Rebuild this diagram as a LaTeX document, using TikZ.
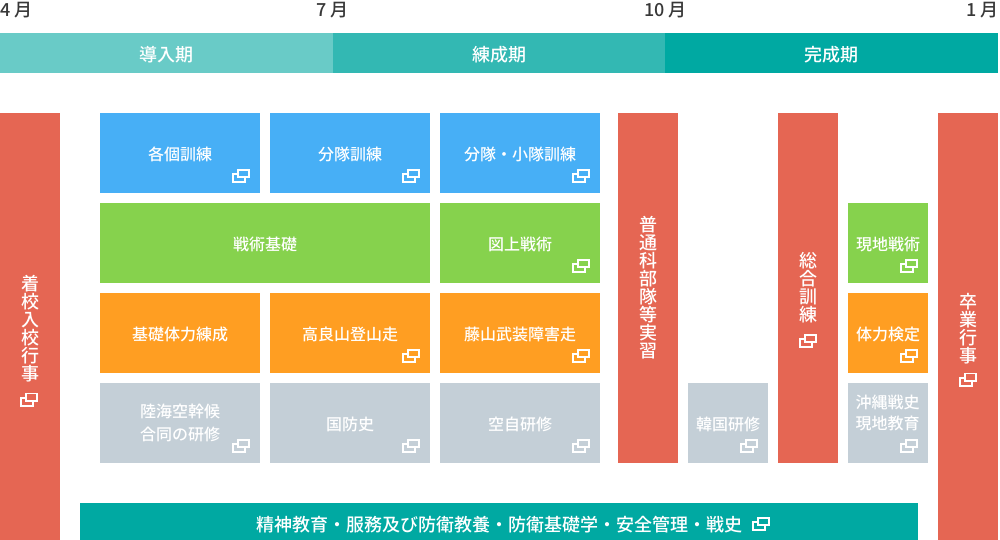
\documentclass[tikz,border=0pt]{standalone}
\usepackage{fontspec}
\setmainfont{Noto Sans CJK JP Medium}[BoldFont={Noto Sans CJK JP Bold}]
\definecolor{kiBlue}{HTML}{47AFF6}
\definecolor{kiGreen}{HTML}{86D24D}
\definecolor{kiOrange}{HTML}{FF9E22}
\definecolor{kiGray}{HTML}{C4CFD7}
\definecolor{kiRed}{HTML}{E56653}
\definecolor{kiTealA}{HTML}{69CBC7}
\definecolor{kiTealB}{HTML}{33B8B3}
\definecolor{kiTealC}{HTML}{00A9A2}
\tikzset{
	tile/.style={anchor=north west,inner sep=0pt,outer sep=0pt,text=white,align=center,
		font=\fontsize{16}{23}\selectfont,minimum width=#1,minimum height=80,
		execute at begin node={\rule{0pt}{16.2pt}}},
	tile/.default=160,
	tall/.style 2 args={anchor=north west,inner sep=0pt,outer sep=0pt,text=white,align=center,
		font=\fontsize{18}{18}\selectfont,minimum width=#1,minimum height=#2},
	period/.style={anchor=north west,inner sep=0pt,outer sep=0pt,text=white,
		font=\fontsize{18}{18}\selectfont,minimum width=#1,minimum height=40,
		execute at begin node={\rule{0pt}{18.2pt}}},
	month/.style={inner sep=0pt,text=black!78,font=\fontsize{18}{18}\selectfont,
		execute at begin node={\rule{0pt}{18.2pt}}},
	winicon/.pic={
		\draw[white,line width=1.7pt] (-12.15,-13.15) rectangle (-.85,-5.85);
		\draw[white,line width=1.7pt] (-13,-8.85) -- (-17.15,-8.85) -- (-17.15,-.85) -- (-5,-.85) -- (-5,-5);
	}
}
\begin{document}
\begin{tikzpicture}[x=1pt,y=-1pt]
	\useasboundingbox (0,0) rectangle (1000,540);
	% months
	\node[month,anchor=west] (m4) at (0,8) {4 月};
	\node[month] (m7) at (332.5,8) {7 月};
	\node[month] (m10) at (665.5,8) {10 月};
	\node[month,anchor=east] (m1) at (998.5,8) {1 月};
	% periods
	\node[period=333,fill=kiTealA] (intro) at (0,33) {導入期};
	\node[period=332,fill=kiTealB] (train) at (333,33) {練成期};
	\node[period=333,fill=kiTealC] (final) at (665,33) {完成期};
	% tall bars
	\node[tall={60}{431},fill=kiRed] (entry) at (0,113) {着\\校\\入\\校\\行\\事};
	\node[tall={60}{350},fill=kiRed] (unit) at (618,113) {普\\通\\科\\部\\隊\\等\\実\\習};
	\node[tall={60}{350},fill=kiRed] (total) at (778,113) {総\\合\\訓\\練};
	\node[tall={60}{431},fill=kiRed] (grad) at (938,113) {卒\\業\\行\\事};
	% first row
	\node[tile,fill=kiBlue] (solo) at (100,113) {各個訓練};
	\node[tile,fill=kiBlue] (squad) at (270,113) {分隊訓練};
	\node[tile,fill=kiBlue] (platoon) at (440,113) {分隊・小隊訓練};
	% second row
	\node[tile=330,fill=kiGreen] (basic) at (100,203) {戦術基礎};
	\node[tile,fill=kiGreen] (map) at (440,203) {図上戦術};
	\node[tile=80,fill=kiGreen] (field) at (848,203) {現地戦術};
	% third row
	\node[tile,fill=kiOrange] (fit) at (100,293) {基礎体力練成};
	\node[tile,fill=kiOrange] (climb) at (270,293) {高良山登山走};
	\node[tile,fill=kiOrange] (race) at (440,293) {藤山武装障害走};
	\node[tile=80,fill=kiOrange] (test) at (848,293) {体力検定};
	% fourth row
	\node[tile,fill=kiGray] (joint) at (100,383) {陸海空幹候\\合同の研修};
	\node[tile,fill=kiGray] (history) at (270,383) {国防史};
	\node[tile,fill=kiGray] (air) at (440,383) {空自研修};
	\node[tile=80,fill=kiGray] (korea) at (688,383) {韓国研修};
	\node[tile=80,fill=kiGray] (okinawa) at (848,383) {};
	\node[inner sep=0pt,text=white,align=center,font=\fontsize{16}{21.5}\selectfont] (okinawaText) at (887.5,413) {沖縄戦史\\現地教育};
	% bottom band
	\node[anchor=north west,inner sep=0pt,outer sep=0pt,minimum width=838,minimum height=40,fill=kiTealC,text=white,
		font=\fontsize{18}{18}\selectfont,execute at begin node={\rule{0pt}{18.2pt}}] (spirit) at (80,503) {精神教育・服務及び防衛教養・防衛基礎学・安全管理・戦史};
	% icons
	\foreach \n in {solo,squad,platoon,map,field,climb,race,test,joint,history,air,korea,okinawa}
		\pic at ([shift={(-10,-10)}]\n.south east) {winicon};
	\pic at ([shift={(8,78)}]entry.center) {winicon};
	\pic at ([shift={(9,60)}]total.center) {winicon};
	\pic at ([shift={(9,58)}]grad.center) {winicon};
	\pic at ([shift={(271,8)}]spirit.center) {winicon};
\end{tikzpicture}
\end{document}
